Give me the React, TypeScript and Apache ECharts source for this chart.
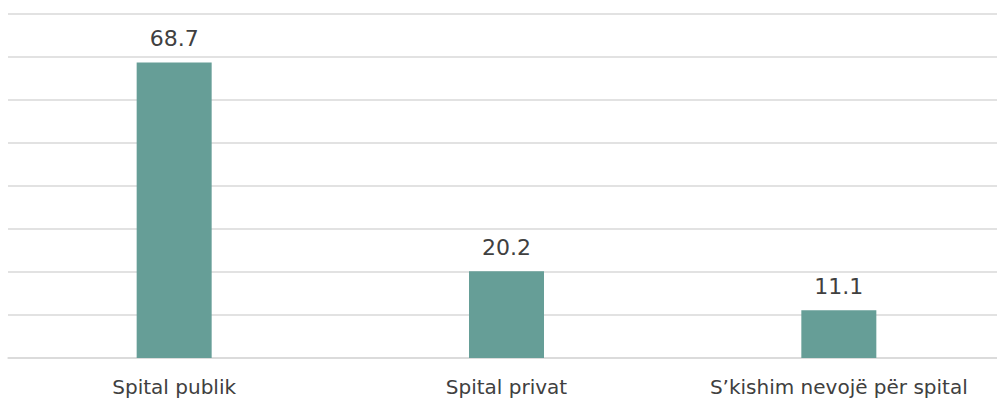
import React, { useEffect, useRef } from "react";
import * as echarts from "echarts";

const categories = ["Spital publik", "Spital privat", "S’kishim nevojë për spital"];
const values = [68.7, 20.2, 11.1];
const axisMin = 0;
const axisMax = 80;
const axisInterval = 10;

export default function App() {
  const ref = useRef<HTMLDivElement>(null);
  useEffect(() => {
    if (!ref.current) return;
    const chart = echarts.init(ref.current, null, { renderer: "svg" });
    const font = "'DejaVu Sans', sans-serif";
    chart.setOption({
      animation: false,
      grid: { left: 8, right: 5, top: 14, bottom: 43, containLabel: false },
      xAxis: {
        type: "category",
        data: categories,
        axisLine: { show: true, lineStyle: { color: "#d9d9d9", width: 1.5 } },
        axisTick: { show: false },
        axisLabel: { color: "#404040", fontSize: 20, fontFamily: font, margin: 19, interval: 0 },
      },
      yAxis: {
        type: "value",
        min: axisMin,
        max: axisMax,
        interval: axisInterval,
        axisLabel: { show: false },
        axisLine: { show: false },
        axisTick: { show: false },
        splitLine: { lineStyle: { color: "#d9d9d9", width: 1.5 } },
      },
      series: [
        {
          type: "bar",
          data: values,
          barWidth: 75,
          itemStyle: { color: "#669e97" },
          label: {
            show: true,
            position: "top",
            distance: 13,
            color: "#404040",
            fontSize: 22,
            fontFamily: font,
            formatter: (p: any) => p.value.toFixed(1),
          },
        },
      ],
    });
    return () => chart.dispose();
  }, []);
  return (
    <div style={{ position: "fixed", left: 0, top: 0, width: 997, height: 401, background: "#fff", overflow: "hidden" }}>
      <div ref={ref} style={{ width: 1010, height: 401 }} />
    </div>
  );
}
